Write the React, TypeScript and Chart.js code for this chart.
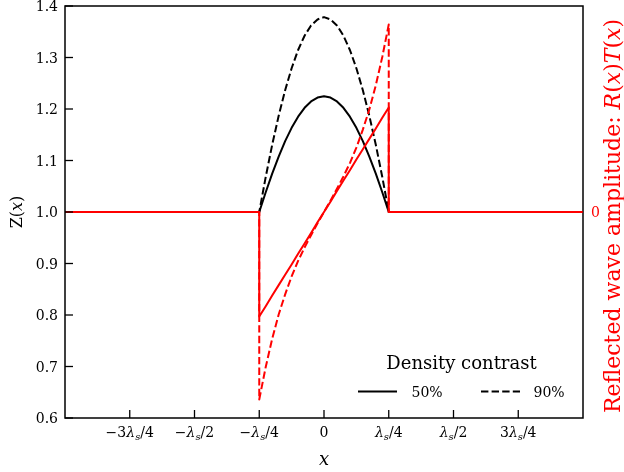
import React, { useEffect, useRef } from 'react';
import { Chart, registerables } from 'chart.js';

Chart.register(...registerables);

// ---------- data ----------
// x positions (in units of λs) across the density bump
const bumpX = [-0.25, -0.225, -0.2, -0.175, -0.15, -0.125, -0.1, -0.075, -0.05, -0.025, 0, 0.025, 0.05, 0.075, 0.1, 0.125, 0.15, 0.175, 0.2, 0.225, 0.25];
// impedance Z(x), 50% and 90% density contrast
const z50 = [1.0, 1.0384, 1.0745, 1.1077, 1.1375, 1.1634, 1.1851, 1.2023, 1.2147, 1.2222, 1.2247, 1.2222, 1.2147, 1.2023, 1.1851, 1.1634, 1.1375, 1.1077, 1.0745, 1.0384, 1.0];
const z90 = [1.0, 1.0681, 1.1305, 1.1868, 1.2365, 1.2792, 1.3146, 1.3423, 1.3623, 1.3739, 1.3784, 1.3739, 1.3623, 1.3423, 1.3146, 1.2792, 1.2365, 1.1868, 1.1305, 1.0681, 1.0];
// reflected wave amplitude R(x)T(x), 50% and 90%
const r50 = [-0.203, -0.183, -0.162, -0.142, -0.122, -0.102, -0.081, -0.061, -0.041, -0.02, 0, 0.02, 0.041, 0.061, 0.081, 0.102, 0.122, 0.142, 0.162, 0.183, 0.203];
const r90 = [-0.364, -0.301, -0.246, -0.199, -0.16, -0.125, -0.095, -0.069, -0.045, -0.022, 0, 0.022, 0.045, 0.069, 0.095, 0.125, 0.16, 0.199, 0.246, 0.301, 0.364];
// flat parts outside the bump
const leftFlatX = [-1, -0.25];
const rightFlatX = [0.25, 1];
const zFlat = 1;
const rFlat = 0;

// axes
const xRange = [-1, 1];
const yRange = [0.6, 1.4];
const y2Range = [-0.4, 0.4];
const xTicks = [-0.75, -0.5, -0.25, 0, 0.25, 0.5, 0.75];
const xTickLabels = ['−3λ_s/4', '−λ_s/2', '−λ_s/4', '0', 'λ_s/4', 'λ_s/2', '3λ_s/4'];
const yTicks = [0.6, 0.7, 0.8, 0.9, 1.0, 1.1, 1.2, 1.3, 1.4];
const yTickLabels = ['0.6', '0.7', '0.8', '0.9', '1.0', '1.1', '1.2', '1.3', '1.4'];
const y2Ticks = [0];
const y2TickLabels = ['0'];
const legendTitle = 'Density contrast';
const legendLabels = ['50%', '90%'];

const FONT = '"DejaVu Serif", serif';
const RED = '#ff0000';

type Seg = { t: string; it?: boolean; sub?: boolean };

function parseMath(s: string): Seg[] {
  const segs: Seg[] = [];
  for (let i = 0; i < s.length; i++) {
    const c = s[i];
    if (c === '_') {
      segs.push({ t: s[i + 1], it: true, sub: true });
      i++;
    } else if (c === 'λ') segs.push({ t: c, it: true });
    else segs.push({ t: c });
  }
  return segs;
}

function drawSegs(ctx: CanvasRenderingContext2D, segs: Seg[], x: number, y: number, size: number, color: string, align: 'left' | 'center' | 'right') {
  const fontOf = (s: Seg) => `${s.it ? 'italic ' : ''}${s.sub ? Math.round(size * 0.7) : size}px ${FONT}`;
  const widths = segs.map((s) => {
    ctx.font = fontOf(s);
    return ctx.measureText(s.t).width;
  });
  const total = widths.reduce((a, b) => a + b, 0);
  let cx = align === 'left' ? x : align === 'center' ? x - total / 2 : x - total;
  ctx.fillStyle = color;
  ctx.textBaseline = 'alphabetic';
  ctx.textAlign = 'left';
  segs.forEach((s, i) => {
    ctx.font = fontOf(s);
    ctx.fillText(s.t, cx, y + (s.sub ? size * 0.22 : 0));
    cx += widths[i];
  });
}

function buildZ(vals: number[]) {
  return [{ x: leftFlatX[0], y: zFlat }, ...bumpX.map((x, i) => ({ x, y: vals[i] })), { x: rightFlatX[1], y: zFlat }];
}
function buildR(vals: number[]) {
  return [
    ...leftFlatX.map((x) => ({ x, y: rFlat })),
    ...bumpX.map((x, i) => ({ x, y: vals[i] })),
    ...rightFlatX.map((x) => ({ x, y: rFlat })),
  ];
}

const DASH = [7.4, 3.2];

const axesPlugin = {
  id: 'customAxes',
  afterDraw(chart: any) {
    const { ctx, chartArea: a, scales } = chart;
    const xs = scales.x, ys = scales.y, y2 = scales.y2;
    ctx.save();
    // frame
    ctx.strokeStyle = '#000';
    ctx.lineWidth = 1.5;
    ctx.setLineDash([]);
    ctx.strokeRect(a.left, a.top, a.right - a.left, a.bottom - a.top);
    ctx.lineWidth = 1.3;
    // left ticks
    yTicks.forEach((v, i) => {
      const py = ys.getPixelForValue(v);
      ctx.strokeStyle = '#000';
      ctx.beginPath();
      ctx.moveTo(a.left, py);
      ctx.lineTo(a.left + 8, py);
      ctx.stroke();
      ctx.font = `14px ${FONT}`;
      ctx.textAlign = 'right';
      ctx.textBaseline = 'alphabetic';
      ctx.fillStyle = '#000';
      ctx.fillText(yTickLabels[i], a.left - 7, py + 5.3);
    });
    // right ticks
    y2Ticks.forEach((v, i) => {
      const py = y2.getPixelForValue(v);
      ctx.strokeStyle = RED;
      ctx.beginPath();
      ctx.moveTo(a.right, py);
      ctx.lineTo(a.right - 8, py);
      ctx.stroke();
      ctx.font = `14px ${FONT}`;
      ctx.textAlign = 'left';
      ctx.fillStyle = RED;
      ctx.fillText(y2TickLabels[i], a.right + 8, py + 5.3);
    });
    // bottom ticks
    xTicks.forEach((v, i) => {
      const px = xs.getPixelForValue(v);
      ctx.strokeStyle = '#000';
      ctx.beginPath();
      ctx.moveTo(px, a.bottom);
      ctx.lineTo(px, a.bottom - 8);
      ctx.stroke();
      drawSegs(ctx, parseMath(xTickLabels[i]), px, a.bottom + 19, 14, '#000', 'center');
    });
    // axis titles
    const midX = (a.left + a.right) / 2;
    const midY = (a.top + a.bottom) / 2;
    drawSegs(ctx, [{ t: 'x', it: true }], midX, a.bottom + 47, 18, '#000', 'center');
    ctx.save();
    ctx.translate(22, midY);
    ctx.rotate(-Math.PI / 2);
    drawSegs(ctx, [{ t: 'Z(' }, { t: 'x', it: true }, { t: ')' }], 0, 0, 16, '#000', 'center');
    ctx.restore();
    ctx.save();
    ctx.translate(620, midY + 4);
    ctx.rotate(-Math.PI / 2);
    drawSegs(
      ctx,
      [
        { t: 'Reflected wave amplitude: ' },
        { t: 'R', it: true },
        { t: '(' },
        { t: 'x', it: true },
        { t: ')' },
        { t: 'T', it: true },
        { t: '(' },
        { t: 'x', it: true },
        { t: ')' },
      ],
      0,
      0,
      22,
      RED,
      'center'
    );
    ctx.restore();
    // legend
    drawSegs(ctx, [{ t: legendTitle }], 461.5, 369, 18, '#000', 'center');
    ctx.strokeStyle = '#000';
    ctx.lineWidth = 2;
    ctx.setLineDash([]);
    ctx.beginPath();
    ctx.moveTo(358, 391.5);
    ctx.lineTo(397, 391.5);
    ctx.stroke();
    ctx.setLineDash(DASH);
    ctx.beginPath();
    ctx.moveTo(481, 391.5);
    ctx.lineTo(520, 391.5);
    ctx.stroke();
    ctx.setLineDash([]);
    drawSegs(ctx, [{ t: legendLabels[0] }], 411.5, 397, 14, '#000', 'left');
    drawSegs(ctx, [{ t: legendLabels[1] }], 533.5, 397, 14, '#000', 'left');
    ctx.restore();
  },
};

export default function App() {
  const ref = useRef<HTMLCanvasElement>(null);
  useEffect(() => {
    if (!ref.current) return;
    const chart = new Chart(ref.current, {
      type: 'line',
      data: {
        datasets: [
          {
            label: 'R 90%',
            data: buildR(r90),
            yAxisID: 'y2',
            borderColor: RED,
            borderWidth: 2,
            borderDash: DASH,
            borderJoinStyle: 'round',
            pointRadius: 0,
            tension: 0,
          },
          {
            label: 'R 50%',
            data: buildR(r50),
            yAxisID: 'y2',
            borderColor: RED,
            borderWidth: 2,
            borderJoinStyle: 'round',
            pointRadius: 0,
            tension: 0,
          },
          {
            label: '50%',
            data: buildZ(z50),
            yAxisID: 'y',
            borderColor: '#000',
            borderWidth: 2,
            borderJoinStyle: 'round',
            pointRadius: 0,
            tension: 0,
          },
          {
            label: '90%',
            data: buildZ(z90),
            yAxisID: 'y',
            borderColor: '#000',
            borderWidth: 2,
            borderDash: DASH,
            borderJoinStyle: 'round',
            pointRadius: 0,
            tension: 0,
          },
        ],
      },
      options: {
        animation: false,
        responsive: false,
        devicePixelRatio: 1,
        layout: { padding: { left: 65, right: 41, top: 6, bottom: 54 } },
        plugins: { legend: { display: false }, tooltip: { enabled: false } },
        scales: {
          x: { type: 'linear', min: xRange[0], max: xRange[1], display: false },
          y: { type: 'linear', min: yRange[0], max: yRange[1], display: false, position: 'left' },
          y2: { type: 'linear', min: y2Range[0], max: y2Range[1], display: false, position: 'right' },
        },
      },
      plugins: [axesPlugin],
    } as any);
    return () => chart.destroy();
  }, []);
  return (
    <div style={{ position: 'absolute', left: 0, top: 0, width: 624, height: 472, background: '#fff' }}>
      <canvas ref={ref} width={624} height={472} />
    </div>
  );
}
